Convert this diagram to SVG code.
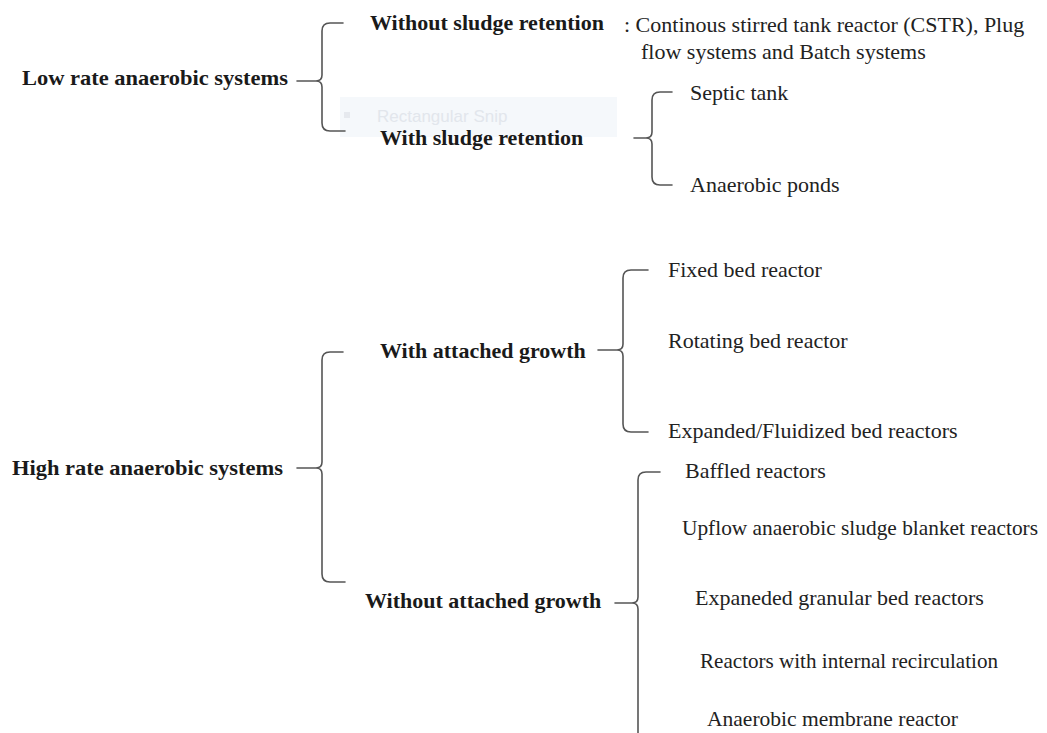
<svg xmlns="http://www.w3.org/2000/svg" width="1047" height="733" viewBox="0 0 1047 733">
<style>
.t{font-family:"Liberation Serif","Times New Roman",serif;font-size:22px;fill:#222}
.b{font-weight:bold;fill:#1a1a1a}
.br{fill:none;stroke:#555;stroke-width:1.6;stroke-linecap:round;stroke-linejoin:round}
.wm{font-family:"Liberation Sans",Arial,sans-serif;font-size:17px;fill:#e2e6ec}
</style>
<rect width="1047" height="733" fill="#fff"/>
<g id="watermark">
<rect x="340" y="97" width="277" height="40" fill="#f5f8fb"/>
<rect x="344" y="112" width="6" height="6" fill="#e6e9ee"/>
<text class="wm" x="377" y="122">Rectangular Snip</text>
</g>
<g id="connectors">
<path class="br" d="M343 23 L330 23 Q322 23 322 31 L322 75 Q322 81 316 81 Q322 81 322 87 L322 123 Q322 131 330 131 L345 131 M297 81 L316 81"/>
<path class="br" d="M672 92 L660 92 Q652 92 652 100 L652 132 Q652 138 646 138 Q652 138 652 144 L652 177 Q652 185 660 185 L672 185 M634 138 L646 138"/>
<path class="br" d="M343 352 L330 352 Q322 352 322 360 L322 462 Q322 468 316 468 Q322 468 322 474 L322 574 Q322 582 330 582 L345 582 M297 468 L316 468"/>
<path class="br" d="M648 270 L631 270 Q623 270 623 278 L623 344 Q623 350 617 350 Q623 350 623 356 L623 424 Q623 432 631 432 L648 432 M598 350 L617 350"/>
<path class="br" d="M660 472 L646 472 Q638 472 638 480 L638 597 Q638 603 632 603 Q638 603 638 609 L638 733 M615 603 L632 603"/>
</g>
<g id="low-rate"><text class="t b" x="22" y="85" textLength="266" lengthAdjust="spacingAndGlyphs">Low rate anaerobic systems</text></g>
<g id="without-sludge"><text class="t b" x="370" y="30">Without sludge retention</text></g>
<g id="without-sludge-desc">
<text class="t" x="624" y="32">: Continous stirred tank reactor (CSTR), Plug</text>
<text class="t" x="641" y="59">flow systems and Batch systems</text>
</g>
<g id="with-sludge"><text class="t b" x="380" y="145">With sludge retention</text></g>
<g id="septic"><text class="t" x="690" y="100">Septic tank</text></g>
<g id="ponds"><text class="t" x="690" y="192">Anaerobic ponds</text></g>
<g id="high-rate"><text class="t b" x="12" y="475" textLength="271" lengthAdjust="spacingAndGlyphs">High rate anaerobic systems</text></g>
<g id="with-attached"><text class="t b" x="380" y="358">With attached growth</text></g>
<g id="fixed"><text class="t" x="668" y="277">Fixed bed reactor</text></g>
<g id="rotating"><text class="t" x="668" y="348">Rotating bed reactor</text></g>
<g id="expanded"><text class="t" x="668" y="438">Expanded/Fluidized bed reactors</text></g>
<g id="without-attached"><text class="t b" x="365" y="608">Without attached growth</text></g>
<g id="baffled"><text class="t" x="685" y="478">Baffled reactors</text></g>
<g id="uasb"><text class="t" x="682" y="535" textLength="356" lengthAdjust="spacingAndGlyphs">Upflow anaerobic sludge blanket reactors</text></g>
<g id="egsb"><text class="t" x="695" y="605">Expaneded granular bed reactors</text></g>
<g id="ic"><text class="t" x="700" y="668" textLength="298" lengthAdjust="spacingAndGlyphs">Reactors with internal recirculation</text></g>
<g id="anmbr"><text class="t" x="707" y="726" textLength="251" lengthAdjust="spacingAndGlyphs">Anaerobic membrane reactor</text></g>
</svg>
